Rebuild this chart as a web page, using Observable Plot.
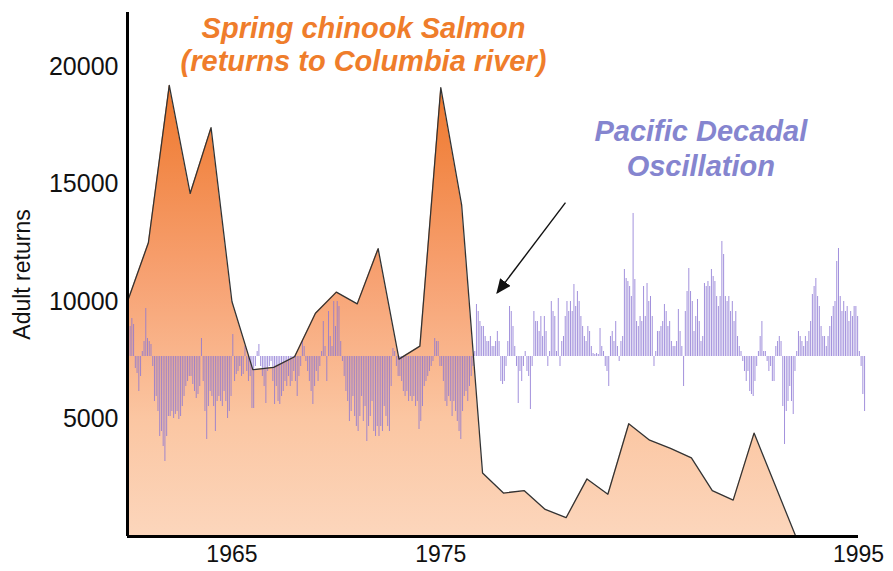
<!DOCTYPE html>
<html><head><meta charset="utf-8">
<script src="https://cdn.jsdelivr.net/npm/d3@7"></script>
<script src="https://cdn.jsdelivr.net/npm/@observablehq/plot@0.6"></script>
<style>
body{margin:0;background:#fff;}
#chart{position:relative;width:893px;height:571px;overflow:hidden;}
</style>
</head><body><div id="chart"></div>
<script>
// ---- Data: Spring chinook salmon adult returns ----
const salmonYears = [1960,1961,1962,1963,1964,1965,1966,1967,1968,1969,1970,1971,1972,1973,1974,1975,1976,1977,1978,1979,1980,1981,1982,1983,1984,1985,1986,1987,1988,1989,1990,1991,1992];
const salmonReturns = [10000,12500,19200,14600,17400,10000,7100,7200,7650,9500,10400,9900,12250,7550,8100,19100,14100,2700,1850,1950,1150,800,2450,1800,4800,4100,3750,3350,1950,1550,4400,2200,0];

// ---- Data: Pacific Decadal Oscillation, monthly index from Jan 1960 ----
const pdoStartYear = 1960;
const pdo1960s = [
  0.40,0.60,0.76,0.64,-0.24,-0.34,-0.70,-0.40,0.10,0.30,0.96,0.36,
  0.30,0.24,-0.20,-0.90,-0.80,-1.10,-1.60,-1.50,-1.80,-2.10,-1.60,-1.20,
  -1.20,-1.10,-1.24,-1.16,-1.10,-1.26,-1.20,-1.00,-0.80,-0.60,-0.50,-0.40,
  -0.40,-0.56,-0.70,-0.84,-0.76,-0.60,0.36,-0.50,-1.10,-1.66,-1.00,-0.70,
  -0.80,-1.00,-1.50,-0.90,-0.80,-0.90,-1.00,-0.70,-0.90,-1.24,-1.10,-0.80,
  0.44,-0.50,-0.36,-0.30,-0.20,-0.40,-0.36,0.20,-0.30,-0.50,-0.40,-1.04,
  -1.04,-0.20,0.10,0.24,-0.20,-0.40,-0.60,-0.94,-0.30,-0.20,-0.10,-0.50,
  -0.96,-0.60,-0.90,-0.96,-0.80,-0.70,-0.50,-0.60,-0.40,-0.60,-0.50,-0.30,
  -0.50,-0.80,-0.40,-0.20,0.30,0.20,-0.10,-0.30,-0.50,-0.70,-0.96,-0.60,
  -0.30,-0.50,-0.20,0.10,0.70,0.20,-0.50,0.90,0.40,0.20,1.10,0.60
];
const pdo1970s = [
  1.10,1.00,0.30,-0.10,-0.40,-0.70,-0.90,-1.30,-1.10,-0.80,-1.20,-1.40,
  -1.50,-1.20,-0.80,-1.30,-1.00,-1.70,-1.40,-1.20,-0.90,-1.50,-1.60,-1.40,
  -1.60,-1.40,-1.50,-1.00,-1.20,-1.40,-1.50,-0.60,0.16,0.10,-0.20,-0.40,
  -0.40,-0.50,-0.70,-0.80,-0.70,-0.90,-0.80,-0.90,-0.80,-1.00,-0.90,-1.46,
  -1.30,-1.00,-0.60,-0.50,-0.40,-0.30,-0.20,-0.10,0.36,0.30,0.30,-0.20,
  -0.20,-0.50,-0.90,-1.00,-0.80,-0.90,-1.20,-0.90,-1.10,-1.30,-1.50,-1.66,
  -1.10,-0.80,-0.70,-0.90,-0.60,-0.40,-0.20,0.10,1.04,0.90,0.70,0.60,
  0.60,0.40,0.30,0.30,0.40,0.20,0.20,0.30,0.50,0.30,-0.50,-0.56,
  -0.50,-0.20,0.30,1.00,0.90,0.60,0.20,-0.20,-0.94,-0.30,-0.50,-0.20,
  0.10,-0.30,-0.40,-1.06,-0.20,0.90,0.70,0.70,0.50,0.80,0.40,0.80
];
const pdo1980s = [
  0.50,-0.20,0.10,1.10,0.90,0.80,0.10,1.16,-0.20,0.30,0.40,0.80,
  1.10,0.90,1.10,0.90,1.44,1.00,1.30,1.10,0.80,0.60,0.40,0.30,
  0.60,0.50,0.20,0.06,0.04,0.06,0.04,0.56,0.20,0.10,-0.20,-0.30,
  -0.60,0.40,0.50,0.30,0.70,0.20,-0.10,0.30,0.40,1.74,1.56,1.50,
  1.40,1.20,2.86,1.54,0.70,0.60,0.80,0.70,1.40,0.80,1.46,1.10,
  1.20,0.80,-0.20,0.10,0.50,0.50,0.60,0.70,1.04,0.90,0.60,0.70,
  0.30,0.20,0.20,0.30,0.94,0.50,0.20,-0.60,0.90,1.30,1.76,1.30,
  1.10,0.50,0.80,1.14,0.70,0.30,0.40,1.46,1.40,1.50,1.40,1.74,
  1.60,1.50,1.20,1.00,1.20,2.30,2.04,1.20,1.10,1.20,0.90,1.10,
  0.70,0.90,0.40,0.20,0.10,-0.10,-0.30,-0.50,-0.30,-0.70,-0.76,-0.80
];
const pdo1990s = [
  -0.50,-0.20,0.10,0.40,0.70,0.10,0.10,-0.10,-0.30,-0.20,-0.50,-0.50,
  0.20,0.30,0.40,0.30,-1.00,-1.76,-1.10,-0.90,-0.60,-0.90,-1.16,-0.30,
  0.10,0.50,0.40,0.30,0.20,0.40,0.30,0.50,0.70,1.24,1.40,1.56,
  1.20,1.00,0.60,0.40,0.40,0.20,0.40,0.60,0.80,1.00,1.10,1.90,
  2.16,1.20,0.90,1.10,0.90,1.00,0.70,0.90,0.80,1.00,1.00,0.80,
  0.10,-0.20,-0.76,-1.10
];

// ---- Axis ticks ----
const xTicks = [1965, 1975, 1995];
const yTicks = [5000, 10000, 15000, 20000];

// PDO drawn on the salmon axis: zero line and size of one index unit
const pdoZero = 7660;
const pdoUnit = 2128;

const salmon = salmonYears.map((year, i) => ({year, returns: salmonReturns[i]}));
const pdoValues = [...pdo1960s, ...pdo1970s, ...pdo1980s, ...pdo1990s];
const pdo = pdoValues.map((v, i) => ({t: pdoStartYear + (i + 0.5) / 12, v}));

const titleNote = [{x: 1971.3, y: 20980, text: "Spring chinook Salmon\n(returns to Columbia river)"}];
const pdoNote = [{x: 1987.45, y: 16550, text: "Pacific Decadal\nOscillation"}];
const pointer = [{x1: 1980.97, y1: 14210, x2: 1977.70, y2: 10370}];

const chart = Plot.plot({
  width: 893, height: 571,
  marginLeft: 127, marginRight: 35, marginTop: 12, marginBottom: 35,
  style: {fontFamily: "'Liberation Sans', Arial, sans-serif", fontSize: "23px", color: "#111", background: "white", overflow: "visible"},
  x: {domain: [1960, 1995], ticks: xTicks, tickFormat: d => String(d), tickSize: 0, tickPadding: 9, label: null},
  y: {domain: [0, 22300], ticks: yTicks, tickFormat: d => String(d), tickSize: 0, tickPadding: 9, label: null},
  marks: [
    Plot.areaY(salmon, {x: "year", y: "returns", fill: "url(#salmonGrad)"}),
    Plot.ruleX(pdo, {x: "t", y1: () => pdoZero, y2: d => pdoZero + d.v * pdoUnit, stroke: "#8b76d3", strokeWidth: 1, strokeOpacity: 0.8}),
    Plot.line(salmon, {x: "year", y: "returns", stroke: "#333", strokeWidth: 1.3}),
    Plot.ruleX([1960], {y1: 0, y2: 22300, stroke: "#000", strokeWidth: 3}),
    Plot.ruleY([0], {x1: 1960, x2: 1995, stroke: "#000", strokeWidth: 3}),
    Plot.link(pointer, {x1: "x1", y1: "y1", x2: "x2", y2: "y2", stroke: "#111", strokeWidth: 1.4}),
    Plot.text(titleNote, {x: "x", y: "y", text: "text", fill: "#ef7d2b", fontSize: 29, fontWeight: "bold", fontStyle: "italic", lineHeight: 1.15}),
    Plot.text(pdoNote, {x: "x", y: "y", text: "text", fill: "#8585cf", fontSize: 29, fontWeight: "bold", fontStyle: "italic", lineHeight: 1.2}),
    Plot.text(["Adult returns"], {frameAnchor: "left", dx: -105, rotate: -90, textAnchor: "middle", fontSize: 23, fill: "#111"})
  ]
});

// gradient fill + filled arrowhead
const svgEl = chart.tagName.toLowerCase() === "svg" ? chart : chart.querySelector("svg");
const svg = d3.select(svgEl);
const defs = svg.insert("defs", ":first-child");
const g = defs.append("linearGradient").attr("id", "salmonGrad")
  .attr("gradientUnits", "userSpaceOnUse").attr("x1", 0).attr("x2", 0).attr("y1", 70).attr("y2", 536);
g.append("stop").attr("offset", "0%").attr("stop-color", "#ee7426");
g.append("stop").attr("offset", "45%").attr("stop-color", "#f7a273");
g.append("stop").attr("offset", "75%").attr("stop-color", "#fbc6a2");
g.append("stop").attr("offset", "100%").attr("stop-color", "#fcd6bc");
defs.append("marker").attr("id", "ahead").attr("viewBox", "0 0 10 10").attr("refX", 9).attr("refY", 5)
  .attr("markerWidth", 15).attr("markerHeight", 13).attr("markerUnits", "userSpaceOnUse").attr("orient", "auto")
  .attr("preserveAspectRatio", "none")
  .append("path").attr("d", "M0,0L10,5L0,10z").attr("fill", "#111");
svg.selectAll('g[aria-label="link"] path, g[aria-label="link"] line').attr("marker-end", "url(#ahead)");
// slightly larger y tick labels, as in the reference
svg.selectAll('g[aria-label^="y-axis"] text').attr("font-size", 25);

document.getElementById("chart").appendChild(chart);
</script>
</body></html>
